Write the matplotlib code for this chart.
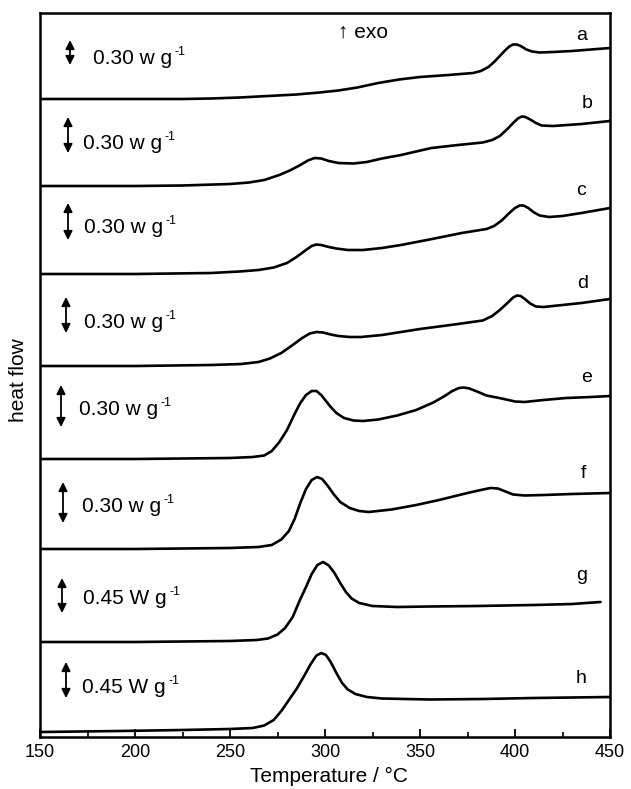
import matplotlib
matplotlib.use('Agg')
import matplotlib.pyplot as plt
from matplotlib.ticker import MultipleLocator

plt.rcParams['font.family'] = ['Liberation Sans', 'DejaVu Sans']

# ---------------- data ----------------
curve_labels = ['a', 'b', 'c', 'd', 'e', 'f', 'g', 'h']
scale_labels = ['0.30 w g', '0.30 w g', '0.30 w g', '0.30 w g',
                '0.30 w g', '0.30 w g', '0.45 W g', '0.45 W g']
scale_exponent = '-1'
x_ticks = [150, 200, 250, 300, 350, 400, 450]

# vertical offset of each stacked curve (arbitrary heat-flow units)
offsets = [638, 551, 463, 371, 278, 188, 95, 5]

temp_a = [150, 200, 225, 240, 255, 270, 285, 297, 307, 317, 328, 339, 350, 365, 378,
          382, 386, 389, 392, 395, 397, 399, 401, 403, 406, 409, 413, 420, 430, 440, 450]
flow_a = [0, 0, 0, 0.5, 1.5, 3, 4.5, 6.5, 8.5, 11.5, 16, 19.5, 22, 24, 26,
          28, 32, 37, 43, 49, 52.5, 54.5, 54.5, 53, 49.5, 47.5, 46.5, 47, 48, 49.5, 51]

temp_b = [150, 200, 225, 250, 260, 268, 276, 282, 287, 291, 294.5, 298, 302, 307, 315,
          322, 330, 340, 356, 370, 383, 388, 392, 396, 399, 401.5, 403.5, 405.5, 408,
          411, 414, 420, 435, 450]
flow_b = [0, 0, 0.5, 2, 3.5, 6, 11, 16, 21, 25.5, 28, 27.5, 25, 23, 22.5,
          24, 27.5, 31, 38, 41, 43.5, 46, 50, 57, 63, 67.5, 69.5, 69, 66.5,
          63, 60.5, 60, 62, 65]

temp_c = [150, 200, 240, 255, 265, 273, 280, 285, 290, 293, 295.5, 298, 302, 306, 312,
          320, 330, 340, 355, 372, 385, 389, 393, 397, 400, 402.5, 404.5, 407, 410,
          413, 418, 425, 435, 450]
flow_c = [0, 0, 1, 2.5, 4, 6.5, 11, 17, 24, 28, 29.5, 29, 27, 25.5, 24,
          24, 26, 29, 34.5, 41, 45, 48, 53.5, 61, 66, 68.5, 68.5, 66, 61.5,
          58.5, 57, 58, 61, 66]

temp_d = [150, 200, 240, 256, 265, 271, 277, 283, 288, 292, 295.5, 299, 303, 307, 313,
          319, 330, 350, 370, 383, 388, 392, 396, 399, 401, 403, 405.5, 408, 411,
          415, 425, 435, 450]
flow_d = [0, 0, 1, 2, 4, 7.5, 13, 21, 28, 32.5, 34, 33.5, 31.5, 30, 29,
          29, 31, 37, 42, 45.5, 50, 56, 63, 68.5, 70.5, 70, 66.5, 62.5, 59.5,
          59, 61, 63, 67]

temp_e = [150, 200, 250, 262, 268, 272, 276, 280, 284, 287, 290, 293, 295.5, 298, 300.5,
          303, 306, 310, 315, 320, 328, 338, 348, 357, 363, 367, 370.5, 373, 376,
          380, 385, 393, 400, 405, 415, 427, 440, 450]
flow_e = [0, 0, 1, 2, 3.5, 8, 17, 29, 45, 56, 64, 68, 68, 64, 58,
          52, 46, 41, 38.5, 38, 39.5, 43.5, 49, 56.5, 63, 68, 71, 71.5, 70.5,
          67.5, 63.5, 60.5, 57.5, 57, 59, 61, 62, 63]

temp_f = [150, 200, 250, 265, 272, 277, 281, 284, 287, 290, 293, 295.8, 298.5, 301.5,
          304.5, 308, 313, 318, 323, 335, 348, 360, 375, 382, 387, 391, 395, 399,
          405, 415, 430, 450]
flow_f = [0, 0, 1, 2, 4, 9.5, 18, 30, 46, 60, 69, 72, 70, 63,
          55, 47, 41, 38, 37, 39.5, 44, 49, 56, 59, 61, 60.5, 57.5, 54.5,
          53.5, 54, 55, 56]

temp_g = [150, 200, 250, 264, 270, 275, 279, 283, 286.8, 290, 293, 296, 299, 302, 305,
          308, 311, 314, 318, 325, 338, 355, 380, 410, 430, 445]
flow_g = [0, 0, 1, 2, 3.5, 7.5, 14, 25, 42, 55, 68, 77, 80, 76.5, 69,
          59, 50, 43.5, 39, 36, 35, 35.5, 36, 37, 38, 40]

temp_h = [150, 192, 225, 250, 262, 268, 273, 277, 281, 285, 289, 292.5, 295.5, 298, 300.5,
          303, 306, 309, 312, 316, 322, 330, 355, 383, 410, 430, 450]
flow_h = [0, 1, 2, 3, 4, 6.5, 12, 21, 32, 43, 56, 68, 76.5, 79, 77,
          70, 59, 49, 42.5, 38, 35, 33.5, 32.5, 33, 34, 34.5, 35]

temps = [temp_a, temp_b, temp_c, temp_d, temp_e, temp_f, temp_g, temp_h]
flows = [flow_a, flow_b, flow_c, flow_d, flow_e, flow_f, flow_g, flow_h]

# ---------------- layout helpers (pixel -> data) ----------------
def tx(px):
    return 150 + (px - 40) / 1.9

def ty(py):
    return 737 - py

# ---------------- figure ----------------
fig = plt.figure(figsize=(6.31, 7.89), dpi=100)
ax = fig.add_axes([40 / 631, 52 / 789, 570 / 631, 724 / 789])

for T, F, off in zip(temps, flows, offsets):
    ax.plot(T, [off + v for v in F], color='black', lw=1.9,
            solid_joinstyle='round', solid_capstyle='round')

ax.set_xlim(150, 450)
ax.set_ylim(0, 724)
ax.set_yticks([])
ax.set_xticks(x_ticks)
ax.xaxis.set_minor_locator(MultipleLocator(25))
ax.tick_params(axis='x', which='major', direction='in', length=6, width=1.3,
               labelsize=13, pad=5, top=False)
ax.tick_params(axis='x', which='minor', direction='in', length=3.5, width=1.2, top=False)
for sp in ax.spines.values():
    sp.set_linewidth(1.8)

ax.set_xlabel('Temperature / °C', fontsize=15)
ax.xaxis.set_label_coords(0.507, -0.041)
ax.set_ylabel('heat flow', fontsize=15)
ax.yaxis.set_label_coords(-0.021, 0.493)

# exo marker
ax.text(tx(338), ty(38), '\u2191 exo', fontsize=15, ha='left', va='baseline')

# curve letters
letter_pos = [(582, 40), (587, 108), (581, 195), (583, 288),
              (587, 382), (583, 478), (582, 580), (581, 683)]
for lab, (px, py) in zip(curve_labels, letter_pos):
    ax.text(tx(px), ty(py), lab, fontsize=14, ha='center', va='baseline')

# scale bars with double arrows and labels
arrow_x = [70, 68, 68, 66, 61, 63, 62, 66]
arrow_y = [(40, 65), (117, 153), (203, 240), (297, 333),
           (385, 427), (482, 523), (578, 613), (662, 698)]
text_x = [93, 83, 84, 84, 79, 82, 83, 82]
text_base = [64, 149, 233, 328, 415, 512, 604, 693]

for lab, axp, (y0, y1), tpx, tb in zip(scale_labels, arrow_x, arrow_y, text_x, text_base):
    ax.annotate('', xy=(tx(axp), ty(y0)), xytext=(tx(axp), ty(y1)),
                arrowprops=dict(arrowstyle='<|-|>', color='black', lw=1.3,
                                mutation_scale=13, shrinkA=0, shrinkB=0))
    t = ax.text(tx(tpx), ty(tb), lab, fontsize=15, ha='left', va='baseline')
    ax.annotate(scale_exponent, xy=(1, 0.85), xycoords=t, xytext=(2, 0),
                textcoords='offset points', fontsize=9, ha='left', va='center')

fig.savefig('out.png', dpi=100)
